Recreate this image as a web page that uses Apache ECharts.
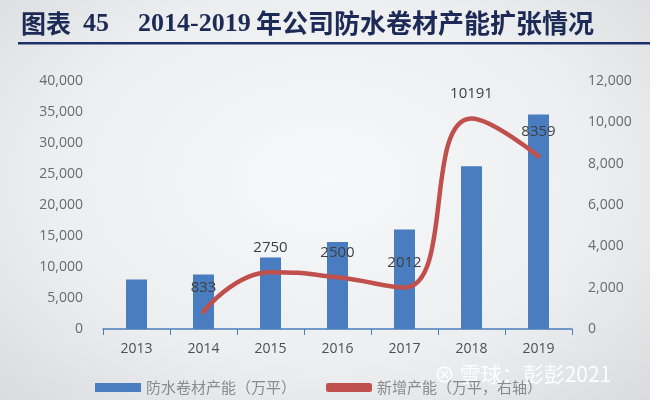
<!DOCTYPE html>
<html><head><meta charset="utf-8">
<script src="https://cdn.jsdelivr.net/npm/echarts@6/dist/echarts.min.js"></script>
<style>
html,body{margin:0;padding:0;}
body{width:650px;height:400px;background:radial-gradient(ellipse at 50% 45%, #f7f8f9 0%, #eceef0 60%, #d9dbde 100%);}
#c{width:650px;height:400px;}
</style></head>
<body><div id="c"></div>
<script>
var years = ['2013','2014','2015','2016','2017','2018','2019'];
var capacity = [7967, 8800, 11550, 14050, 16062, 26253, 34612];
var added = [null, 833, 2750, 2500, 2012, 10191, 8359];
var leftTicks = [0, 40000, 5000];
var rightTicks = [0, 12000, 2000];
var titleParts = ['图表', '45', '2014-2019', '年公司防水卷材产能扩张情况'];

function fmt(v){ return String(v).replace(/\B(?=(\d{3})+(?!\d))/g, ','); }

var titleFontCJK = 'bold 26px "Noto Sans CJK SC", serif';
var titleFontNum = 'bold 26px "Liberation Serif", serif';
var chart = echarts.init(document.getElementById('c'), null, {renderer:'canvas'});
chart.setOption({
  backgroundColor: 'transparent',
  animation: false,
  textStyle: {fontFamily: 'Open Sans, Noto Sans CJK SC, sans-serif'},
  grid: {left: 103, right: 78, top: 81, bottom: 71},
  graphic: [
    {type:'text', x: 21, y: 23, style:{text: titleParts[0], font: 'bold 25px "Noto Sans CJK SC", serif', fill:'#1c2a55', verticalAlign:'middle'}},
    {type:'text', x: 83, y: 24, style:{text: titleParts[1], font: titleFontNum, fill:'#1c2a55', verticalAlign:'middle'}},
    {type:'text', x: 138, y: 24, style:{text: titleParts[2], font: titleFontNum, fill:'#1c2a55', verticalAlign:'middle'}},
    {type:'text', x: 256, y: 23, style:{text: titleParts[3], font: titleFontCJK, fill:'#1c2a55', verticalAlign:'middle'}},
    {type:'rect', shape:{x:18, y:42, width:632, height:2.5}, style:{fill:'#1f3068'}},
    {type:'text', left: 434, top: 364, style:{text: '⊗ 雪球：彭彭2021', font: '21px "Noto Sans CJK SC", sans-serif', fill:'rgba(255,255,255,0.95)', shadowColor:'rgba(0,0,0,0.35)', shadowBlur:3}}
  ],
  legend: {
    left: 90, top: 375, itemGap: 30, itemWidth: 46, itemHeight: 9,
    textStyle: {color:'#8a8a8a', fontSize: 15, fontFamily:'Noto Sans CJK SC'},
    data: [
      {name:'防水卷材产能（万平）', icon:'rect'},
      {name:'新增产能（万平，右轴）', icon:'roundRect'}
    ]
  },
  xAxis: {
    type:'category', data: years,
    axisLine:{lineStyle:{color:'#4a7ebb', width:1.5}},
    axisTick:{show:true, length:6, lineStyle:{color:'#4a7ebb'}},
    axisLabel:{color:'#4f4f4f', fontSize:14, margin:13}
  },
  yAxis: [
    {type:'value', min:leftTicks[0], max:leftTicks[1], interval:leftTicks[2],
     axisLine:{show:false}, axisTick:{show:false}, splitLine:{show:false},
     axisLabel:{color:'#6a6a6a', fontSize:14, margin:20, formatter: fmt}},
    {type:'value', min:rightTicks[0], max:rightTicks[1], interval:rightTicks[2],
     axisLine:{show:false}, axisTick:{show:false}, splitLine:{show:false},
     axisLabel:{color:'#6a6a6a', fontSize:14, margin:16, formatter: fmt}}
  ],
  series: [
    {name:'防水卷材产能（万平）', type:'bar', data: capacity, barWidth: 21,
     itemStyle:{color:'#4a7dbf'}},
    {name:'新增产能（万平，右轴）', type:'line', yAxisIndex:1, data: added, smooth:0.5,
     showSymbol:true, symbol:'circle', symbolSize:0.1, connectNulls:false,
     lineStyle:{color:'#c0504d', width:4.5, cap:'round'},
     itemStyle:{color:'#c0504d'},
     label:{show:true, position:'top', distance:17, color:'#3f3f3f', fontSize:15}}
  ]
});
</script></body></html>
